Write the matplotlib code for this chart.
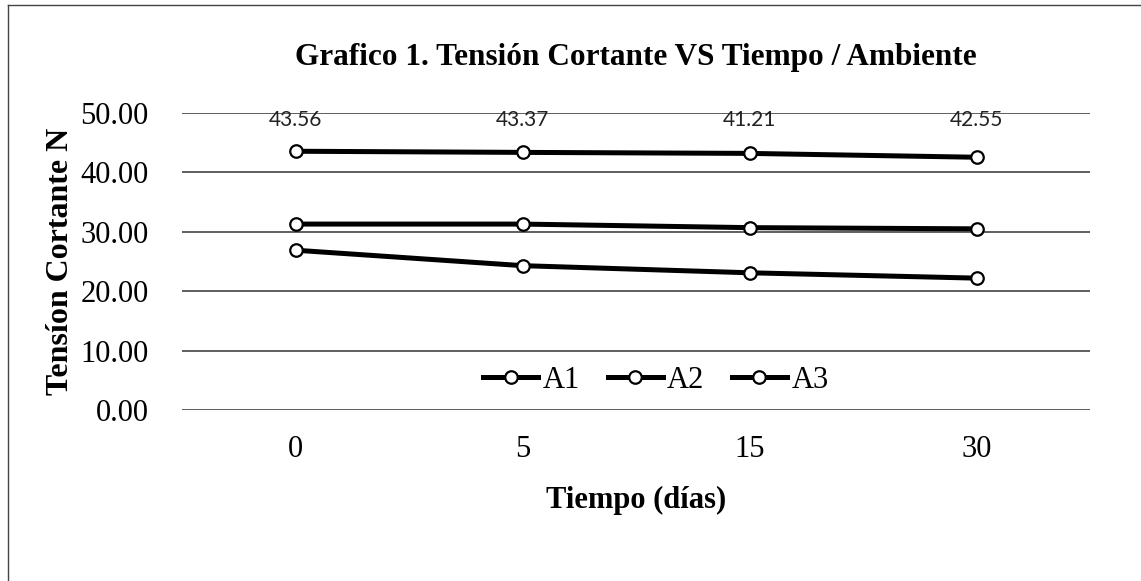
import matplotlib
matplotlib.use("Agg")
import matplotlib.pyplot as plt
from matplotlib.lines import Line2D

categories = ["0", "5", "15", "30"]
a1 = [26.9, 24.3, 23.1, 22.2]
a2 = [31.3, 31.3, 30.7, 30.5]
a3 = [43.56, 43.37, 43.2, 42.55]
a3_labels = ["43.56", "43.37", "41.21", "42.55"]
series_names = ["A1", "A2", "A3"]
yticks = [0, 10, 20, 30, 40, 50]

W, H = 1141, 581
fig = plt.figure(figsize=(W / 100, H / 100), dpi=100)
fig.patch.set_facecolor("white")

ax = fig.add_axes([182 / W, 1 - 410 / H, 908 / W, 297 / H])
x = list(range(len(categories)))

LW, MS = 3.6, 9
for vals in (a1, a2, a3):
    ax.plot(x, vals, color="black", lw=LW, marker="o", markersize=MS,
            markerfacecolor="white", markeredgecolor="black", markeredgewidth=1.6,
            solid_capstyle="butt", zorder=3)

for xi, v, lab in zip(x, a3, a3_labels):
    ax.annotate(lab, (xi, 50), xytext=(0, -5), textcoords="offset points",
                ha="center", va="center", fontsize=15, family="Lato",
                color="#222222", annotation_clip=False, zorder=4)

ax.set_xlim(-0.5, len(categories) - 0.5)
ax.set_ylim(0, 50)
ax.set_yticks(yticks)
ax.set_yticklabels([f"{t:.2f}" for t in yticks], family="Liberation Serif", fontsize=22)
ax.set_xticks(x)
ax.set_xticklabels(categories, family="Liberation Serif", fontsize=22)
ax.tick_params(axis="x", length=0, pad=18)
ax.tick_params(axis="y", length=0, pad=24)
ax.grid(axis="y", color="#333333", lw=1.1, zorder=1)
for s in ax.spines.values():
    s.set_visible(False)

ax.set_xlabel("Tiempo (días)", family="Liberation Serif", fontweight="bold",
              fontsize=22, labelpad=16)
ax.set_ylabel("Tensíon Cortante N", family="Liberation Serif", fontweight="bold",
              fontsize=23, labelpad=4)

fig.text(636 / W, 1 - 57 / H, "Grafico 1. Tensión Cortante VS Tiempo / Ambiente",
         ha="center", va="center", family="Liberation Serif", fontweight="bold",
         fontsize=22.5)

handles = [Line2D([0], [0], color="black", lw=LW, marker="o", markersize=MS,
                  markerfacecolor="white", markeredgecolor="black",
                  markeredgewidth=1.6) for _ in series_names]
leg = ax.legend(handles, series_names, loc="center", bbox_to_anchor=(0.522, 0.1),
                ncol=3, frameon=False, handlelength=1.8, handletextpad=0.15,
                columnspacing=0.9, prop={"family": "Liberation Serif", "size": 22})

# outer chart border (top and left, as in the scan)
fig.add_artist(Line2D([8 / W, 1.0], [1 - 5 / H, 1 - 5 / H], color="#444444", lw=1,
                      transform=fig.transFigure))
fig.add_artist(Line2D([8 / W, 8 / W], [1 - 5 / H, 0.0], color="#444444", lw=1,
                      transform=fig.transFigure))

fig.savefig("out.png", dpi=100)
